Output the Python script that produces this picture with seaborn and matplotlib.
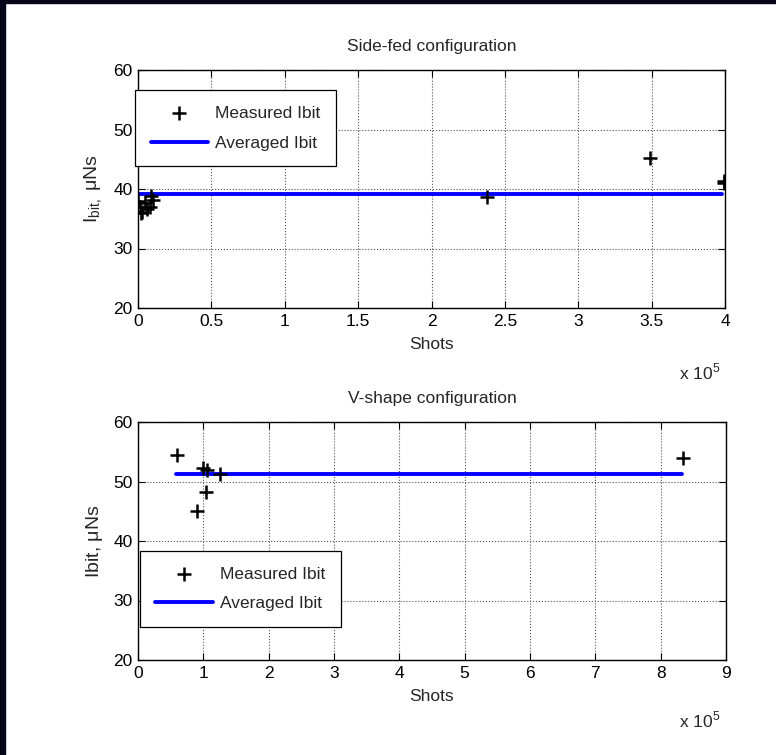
import matplotlib
matplotlib.use("Agg")
import matplotlib.pyplot as plt
import seaborn as sns
from matplotlib.patches import Rectangle

# Side-fed configuration (shots in units of 1e5)
side_shots = [0.0, 0.015, 0.03, 0.05, 0.06, 0.08, 0.1, 0.02, 0.09, 2.38, 3.49, 3.99, 3.99]
side_ibit = [38.0, 37.0, 36.2, 37.6, 36.6, 37.0, 38.2, 36.0, 38.8, 38.6, 45.2, 41.4, 41.0]
side_avg = 39.1
side_avg_span = [0.0, 3.98]

# V-shape configuration
v_shots = [0.59, 1.0, 1.05, 1.25, 1.04, 0.9, 8.34]
v_ibit = [54.4, 52.3, 51.9, 51.3, 48.2, 45.0, 54.0]
v_avg = 51.3
v_avg_span = [0.58, 8.33]

sns.set_theme(style="white")
plt.rcParams['font.family'] = ['Liberation Sans', 'DejaVu Sans']
plt.rcParams['mathtext.fontset'] = 'custom'
plt.rcParams['mathtext.rm'] = 'Liberation Sans'

fig = plt.figure(figsize=(7.76, 7.55), dpi=100)
fig.patch.set_facecolor('white')
# dark frame on left and top
fig.patches.append(Rectangle((0, 0), 5 / 776, 1, transform=fig.transFigure, color='#06061a', zorder=0))
fig.patches.append(Rectangle((0, 1 - 3 / 755), 1, 3 / 755, transform=fig.transFigure, color='#06061a', zorder=0))

ax1 = fig.add_axes([138 / 776, 1 - 308 / 755, 587 / 776, 238 / 755])
ax2 = fig.add_axes([138 / 776, 1 - 660 / 755, 588 / 776, 238 / 755])


def style(ax, xmax, xticks, xticklabels):
    ax.set_xlim(0, xmax)
    ax.set_ylim(20, 60)
    ax.set_xticks(xticks)
    ax.set_xticklabels(xticklabels)
    ax.set_yticks([20, 30, 40, 50, 60])
    ax.grid(True, linestyle=':', color='#555555', linewidth=0.8)
    ax.tick_params(direction='in', top=True, right=True, bottom=True, left=True,
                   length=5, width=0.8, labelsize=12.5, colors='black', pad=4)
    for sp in ax.spines.values():
        sp.set_color('black')
        sp.set_linewidth(1.0)
    ax.set_facecolor('white')


def legend(ax, anchor):
    leg = ax.legend(loc='upper left', bbox_to_anchor=anchor, borderaxespad=0,
                    fontsize=12.5, frameon=True, fancybox=False, framealpha=1,
                    edgecolor='black', handlelength=3.3, borderpad=0.9,
                    labelspacing=0.85, handletextpad=0.4)
    leg.get_frame().set_linewidth(0.9)


# top panel
sns.scatterplot(x=side_shots, y=side_ibit, marker='+', s=90, color='black',
                linewidth=1.8, ax=ax1, label='Measured Ibit', zorder=3)
sns.lineplot(x=side_avg_span, y=[side_avg, side_avg], color='blue', linewidth=2.8,
             ax=ax1, label='Averaged Ibit', zorder=2)
style(ax1, 4, [0, 0.5, 1, 1.5, 2, 2.5, 3, 3.5, 4],
      ['0', '0.5', '1', '1.5', '2', '2.5', '3', '3.5', '4'])
ax1.set_title('Side-fed configuration', fontsize=12.5, pad=14)
ax1.set_xlabel('Shots', fontsize=12.5, labelpad=6)
ax1.set_ylabel('I$_{\\mathregular{bit,}}$ $\\mathregular{\\mu}$Ns', fontsize=14, labelpad=6)
legend(ax1, (-0.005, 0.916))

# bottom panel
sns.scatterplot(x=v_shots, y=v_ibit, marker='+', s=90, color='black',
                linewidth=1.8, ax=ax2, label='Measured Ibit', zorder=3)
sns.lineplot(x=v_avg_span, y=[v_avg, v_avg], color='blue', linewidth=2.8,
             ax=ax2, label='Averaged Ibit', zorder=2)
style(ax2, 9, list(range(10)), [str(i) for i in range(10)])
ax2.set_title('V-shape configuration', fontsize=12.5, pad=14)
ax2.set_xlabel('Shots', fontsize=12.5, labelpad=6)
ax2.set_ylabel('Ibit, $\\mathregular{\\mu}$Ns', fontsize=14, labelpad=6)
legend(ax2, (0.003, 0.459))

# MATLAB-style exponent labels
fig.text(720 / 776, 1 - 372 / 755, 'x 10$^{\\mathregular{5}}$', ha='right', va='center', fontsize=12.5)
fig.text(720 / 776, 1 - 720 / 755, 'x 10$^{\\mathregular{5}}$', ha='right', va='center', fontsize=12.5)

fig.savefig('out.png', dpi=100, facecolor='white')
